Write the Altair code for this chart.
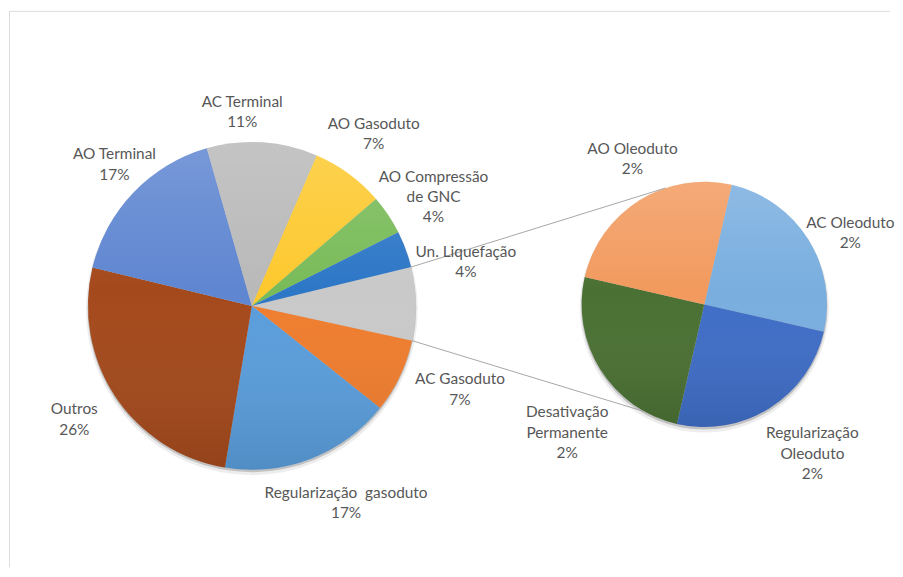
import math
import altair as alt
import pandas as pd

# ---------------- data ----------------
# main pie (clockwise, starting with the aggregated slice that is exploded into the second pie)
main_names = ["Demais (detalhe)", "AC Gasoduto", "Regularização  gasoduto", "Outros",
              "AO Terminal", "AC Terminal", "AO Gasoduto", "AO Compressão de GNC", "Un. Liquefação"]
main_values = [None, 7.3, 16.9, 26.1, 16.8, 10.9, 7.2, 3.9, 3.6]
main_label_text = ["", "AC Gasoduto", "Regularização \u00a0gasoduto", "Outros",
                   "AO Terminal", "AC Terminal", "AO Gasoduto", "AO Compressão\nde GNC", "Un. Liquefação"]

# secondary pie (detail of the aggregated slice)
sec_names = ["AC Oleoduto", "Regularização Oleoduto", "Desativação Permanente", "AO Oleoduto"]
sec_values = [1.8, 1.8, 1.8, 1.8]
sec_label_text = ["AC Oleoduto", "Regularização\nOleoduto", "Desativação\nPermanente", "AO Oleoduto"]

main_colors = ["#C9C9C9", "#EF7D2E", "#5A9DDB", "#A4491C", "#5F86D1",
               "#B9B9B9", "#FDC92F", "#79BB59", "#2D77C7"]
sec_colors = ["#79AEDF", "#3F6DC6", "#4A7033", "#F29A5E"]

main_values[0] = sum(sec_values)
total = sum(main_values)

# ---------------- layout ----------------
W, H = 887, 561
MAIN_C = (244.5, 298.0)
MAIN_R = 165
SEC_C = (700.0, 296.5)
SEC_R = 123.5
MAIN_START = 76.3   # degrees, clockwise from 12 o'clock
SEC_START = 12.9
SEC_ATTACH = (341.5, 209.0)   # where connector lines meet the second pie

main_label_off = [None, (60.5, 8.2), (35.7, 39.0), (-41.2, 17.9), (-19.2, -33.5),
                  (-20.3, -35.6), (25.0, -45.3), (45.6, -33.4), (60.6, 7.7)]
sec_label_off = [(42.4, -11.6), (43.2, 30.2), (-33.4, 48.2), (-6.7, -47.2)]

FONT = "Lato"
TXT = "#575757"


def polar(c, r, deg):
    a = math.radians(deg)
    return c[0] + r * math.sin(a), c[1] - r * math.cos(a)


def label_rows(names, values, texts, offs, tot, pct_total, start, c, r):
    rows = []
    cum = 0.0
    for n, v, t, o in zip(names, values, texts, offs):
        mid = start + (cum + v / 2) * 360.0 / tot
        cum += v
        if o is None:
            continue
        px, py = polar(c, r, mid)
        pct = round(v / pct_total * 100)
        rows.append({"name": n, "lx": px + o[0], "ly": py + o[1], "label": f"{t}\n{pct}%"})
    return rows


main_df = pd.DataFrame({"name": main_names, "value": main_values, "idx": range(len(main_names))})
sec_df = pd.DataFrame({"name": sec_names, "value": sec_values, "idx": range(len(sec_names))})

labels = label_rows(main_names, main_values, main_label_text, main_label_off, total, total,
                    MAIN_START, MAIN_C, MAIN_R)
labels += label_rows(sec_names, sec_values, sec_label_text, sec_label_off, sum(sec_values), total,
                     SEC_START, SEC_C, SEC_R)
label_df = pd.DataFrame(labels)

# connector lines from the aggregated slice edges to the second pie
g0 = MAIN_START
g1 = MAIN_START + main_values[0] * 360.0 / total
p0 = polar(MAIN_C, MAIN_R, g0)
p1 = polar(MAIN_C, MAIN_R, g1)
q0 = polar(SEC_C, SEC_R, SEC_ATTACH[0])
q1 = polar(SEC_C, SEC_R, SEC_ATTACH[1])
conn_df = pd.DataFrame([
    {"x": p0[0], "y": p0[1], "x2": q0[0], "y2": q0[1]},
    {"x": p1[0], "y": p1[1], "x2": q1[0], "y2": q1[1]},
])

color_scale = alt.Scale(domain=main_names + sec_names, range=main_colors + sec_colors)


def pie(df, c, r, start):
    s = math.radians(start)
    return alt.Chart(df).mark_arc(radius=r, stroke=None).encode(
        theta=alt.Theta("value:Q", stack=True, scale=alt.Scale(range=[s, s + 2 * math.pi])),
        order=alt.Order("idx:Q"),
        color=alt.Color("name:N", scale=color_scale, legend=None),
        x=alt.value(c[0]),
        y=alt.value(c[1]),
    )


one = alt.Data(values=[{"v": 1}])


def disc(c, r, dy, **kw):
    return alt.Chart(one).mark_arc(radius=r, **kw).encode(
        theta=alt.Theta("v:Q"), x=alt.value(c[0]), y=alt.value(c[1] + dy))


shade = alt.LinearGradient(
    gradient="linear", x1=0, x2=0, y1=0, y2=1,
    stops=[alt.GradientStop(color="rgba(255,255,255,0.16)", offset=0),
           alt.GradientStop(color="rgba(255,255,255,0.0)", offset=0.45),
           alt.GradientStop(color="rgba(0,0,0,0.10)", offset=1)])

layers = []
# frame (top and left edges)
frame = alt.Data(values=[{}])
layers.append(alt.Chart(frame).mark_rule(color="#DCDCDC", strokeWidth=1).encode(
    x=alt.value(0), x2=alt.value(W), y=alt.value(1.5)))
layers.append(alt.Chart(frame).mark_rule(color="#DCDCDC", strokeWidth=1).encode(
    x=alt.value(0.5), y=alt.value(1.5), y2=alt.value(H)))
# soft shadows
for c, r in [(MAIN_C, MAIN_R), (SEC_C, SEC_R)]:
    layers.append(disc(c, r + 2, 3.5, color="#000000", opacity=0.07))
    layers.append(disc(c, r + 0.5, 2.0, color="#000000", opacity=0.18))
# pies
layers.append(pie(main_df, MAIN_C, MAIN_R, MAIN_START))
layers.append(pie(sec_df, SEC_C, SEC_R, SEC_START))
# shading overlays
layers.append(disc(MAIN_C, MAIN_R, 0, fill=shade))
layers.append(disc(SEC_C, SEC_R, 0, fill=shade))
# connector lines
layers.append(alt.Chart(conn_df).mark_rule(color="#A6A6A6", strokeWidth=1).encode(
    x=alt.X("x:Q", scale=None, axis=None), y=alt.Y("y:Q", scale=None, axis=None),
    x2="x2:Q", y2="y2:Q"))
# labels
layers.append(alt.Chart(label_df).mark_text(
    font=FONT, fontSize=15.5, color=TXT, align="center", baseline="alphabetic",
    lineBreak="\n", lineHeight=20.5).encode(
    x=alt.X("lx:Q", scale=None, axis=None), y=alt.Y("ly:Q", scale=None, axis=None),
    text="label:N"))

chart = alt.layer(*layers).resolve_scale(theta="independent").properties(
    width=W, height=H, padding=0, background="white"
).configure_view(stroke=None)

chart.save("out.html", embed_options={"renderer": "svg", "actions": False})
